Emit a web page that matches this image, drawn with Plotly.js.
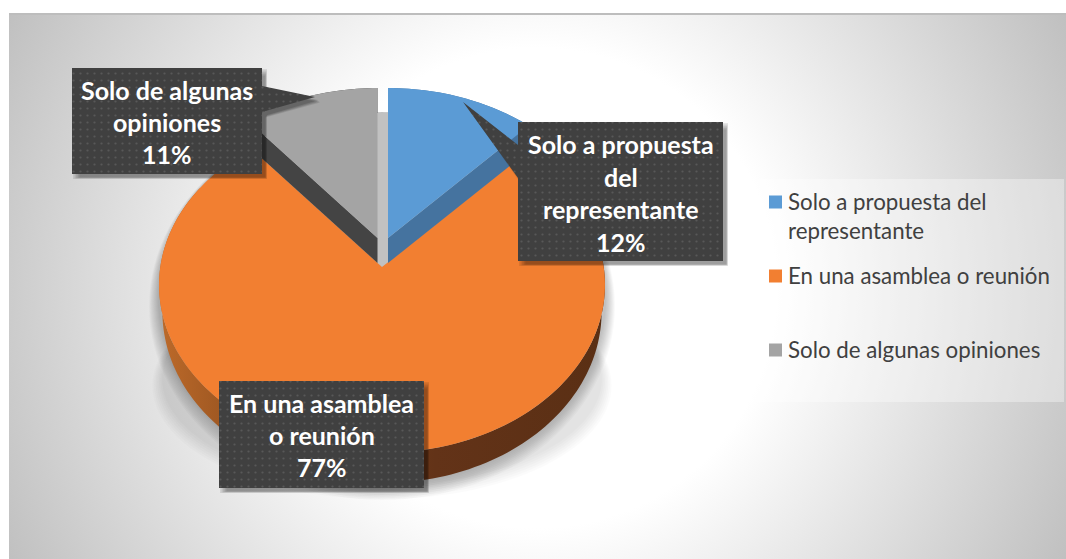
<!DOCTYPE html>
<html><head><meta charset="utf-8">
<script src="https://cdn.plot.ly/plotly-3.0.1.min.js"></script>
<style>
html,body{margin:0;padding:0;background:#fff;width:1066px;height:559px;overflow:hidden}
#bg{position:absolute;left:9px;top:13px;width:1057px;height:546px;box-sizing:border-box;border-top:2px solid #bdbdbd;
background:radial-gradient(circle 600px at 528px 273px,#ffffff 0%,#ffffff 40%,#bfbfbf 100%)}
#chart{position:absolute;left:0;top:0;width:1066px;height:559px}
</style></head><body><div id="bg"></div><div id="chart"></div>
<script>
// ---- data ----
const categories = ['Solo a propuesta del representante','En una asamblea o reunión','Solo de algunas opiniones'];
const values = [12,77,11];
const labelLines = [['Solo a propuesta','del','representante'],['En una asamblea','o reunión'],['Solo de algunas','opiniones']];
const legendLines = [['Solo a propuesta del','representante'],['En una asamblea o reunión'],['Solo de algunas opiniones']];
const topColors = ['#5b9bd5','#f27f31','#a4a4a4'];
const wallColors = ['#45739f','#8a4d1e','#444444'];

// ---- geometry of the tilted pie ----
const vertices = [[388,238],[382,267],[377.5,238]];
const A=166, B=221.7, K=0.107, DEPTH=25, LABEL='#404040';
function proj(v,deg,s,d){
  const t=deg*Math.PI/180, X=Math.sin(t), Y=Math.cos(t), w=1+K*Y;
  return [v[0]+(s||1)*B*X/w, v[1]-(s||1)*A*Y/w+(d||0)];
}
function arc(v,a0,a1,s,d){const p=[];const n=Math.max(2,Math.ceil(Math.abs(a1-a0)/1.5));
  for(let i=0;i<=n;i++)p.push(proj(v,a0+(a1-a0)*i/n,s,d));return p;}
const total=values.reduce((a,b)=>a+b,0);
const spans=[];let acc=0;values.forEach(x=>{spans.push([acc/total*360,(acc+x)/total*360]);acc+=x;});

const traces=[];
function poly(pts,style){
  const x=pts.map(p=>p[0]).concat(pts[0][0]), y=pts.map(p=>p[1]).concat(pts[0][1]);
  traces.push(Object.assign({type:'scatter',mode:'none',x,y,fill:'toself',hoverinfo:'skip',showlegend:false},style));
}
function ellipse(cx,rx,top,bot){
  const pts=[],cy=(top+bot)/2,ry=(bot-top)/2;
  for(let a=0;a<360;a+=3){const t=a*Math.PI/180;pts.push([cx+rx*Math.sin(t),cy-ry*Math.cos(t)]);}
  return pts;
}
// soft shadow of the pie
for(let k=0;k<11;k++) poly(ellipse(382,224+k*0.9,112,483+k*1.7),{fillcolor:'rgba(0,0,0,0.023)'});
for(let k=0;k<7;k++) poly(ellipse(382,220+k*1.6,272,486+k*2.2),{fillcolor:'rgba(0,0,0,0.016)'});
// orange rim wall (nearer part of the rim looks deeper)
{
  const v=vertices[1];
  const a0=Math.max(spans[1][0],60),a1=Math.min(spans[1][1],300);
  const lower=[];
  for(let a=a1;a>=a0;a-=1.5){lower.push(proj(v,a,0.985,DEPTH+1-7*Math.cos(a*Math.PI/180)));}
  poly(arc(v,a0,a1).concat(lower),{fillcolor:wallColors[1],
    fillgradient:{type:'horizontal',colorscale:[[0,'#bd6a2a'],[0.3,'#7e4419'],[0.62,'#633318'],[1,'#5a2f14']]}});
}
// slices: cut walls then top faces
[1,0,2].forEach(i=>{
  const v=vertices[i],[a0,a1]=spans[i];
  if(i!==1){
    const edge=i===0?a1:a0;
    poly([v,proj(v,edge),proj(v,edge,1,DEPTH),[v[0],v[1]+DEPTH]],{fillcolor:wallColors[i]});
    poly(arc(v,a0,a1).concat(arc(v,a1,a0,1,DEPTH)),{fillcolor:wallColors[i]});
  }
  poly([v].concat(arc(v,a0,a1)),{fillcolor:topColors[i]});
});

// ---- data label boxes with pointers ----
const boxes=[
 {x0:518,x1:723,y0:122,y1:261,first:144,pitch:32.7},
 {x0:219,x1:424,y0:381,y1:488,first:403,pitch:32.2},
 {x0:72,x1:262,y0:68,y1:174,first:90,pitch:32.2}
];
function boxPts(b,i,o,g){
  const p=[[b.x0-g+o,b.y0-g+o],[b.x1+g+o,b.y0-g+o]];
  if(i===2){p.push([b.x1+g+o,86+o],[315+o,97+o],[b.x1+g+o,112+o]);}
  p.push([b.x1+g+o,b.y1+g+o],[b.x0-g+o,b.y1+g+o]);
  if(i===0){p.push([b.x0-g+o,178+o],[463+o,102+o],[b.x0-g+o,145+o]);}
  return p;
}
boxes.forEach((b,i)=>{
  for(let k=0;k<5;k++) poly(boxPts(b,i,3+k*0.6,2-k),{fillcolor:'rgba(0,0,0,0.09)'});
  poly(boxPts(b,i,0,0),{fillcolor:LABEL,fillpattern:{shape:'.',size:7,solidity:0.08,fgcolor:'#585858',bgcolor:LABEL,fillmode:'replace'}});
});

const annotations=[];
function addText(x,y,text,font,anchor){annotations.push({xref:'x',yref:'y',x,y,text,showarrow:false,xanchor:anchor,yanchor:'middle',font});}
boxes.forEach((b,i)=>{
  const cx=(b.x0+b.x1)/2,font={family:'Lato, "Open Sans", sans-serif',size:25,color:'#ffffff'};
  const lines=labelLines[i].concat(values[i]+'%');
  lines.forEach((t,j)=>addText(cx,b.first+j*b.pitch,'<b>'+t+'</b>',font,'center'));
});

// ---- legend ----
const legendY=[[201,230],[275],[349]];
const markY=[202,276,350];
categories.forEach((c,i)=>{
  traces.push({type:'scatter',mode:'markers',x:[775.5],y:[markY[i]],name:c,hoverinfo:'skip',showlegend:false,
    marker:{symbol:'square',size:13,color:topColors[i]}});
  legendLines[i].forEach((t,j)=>addText(786,legendY[i][j],t,{family:'Lato, "Open Sans", sans-serif',size:22.3,color:'#404040'},'left'));
});

Plotly.newPlot('chart',traces,{
  width:1066,height:559,margin:{l:0,r:0,t:0,b:0},paper_bgcolor:'rgba(0,0,0,0)',plot_bgcolor:'rgba(0,0,0,0)',
  showlegend:false,
  xaxis:{range:[0,1066],visible:false,fixedrange:true},
  yaxis:{range:[559,0],visible:false,fixedrange:true},
  shapes:[{type:'rect',xref:'x',yref:'y',x0:756,x1:1064,y0:179,y1:402,layer:'below',line:{width:0},fillcolor:'rgba(255,255,255,0.35)'}],
  annotations
},{displayModeBar:false,staticPlot:true});
</script></body></html>
